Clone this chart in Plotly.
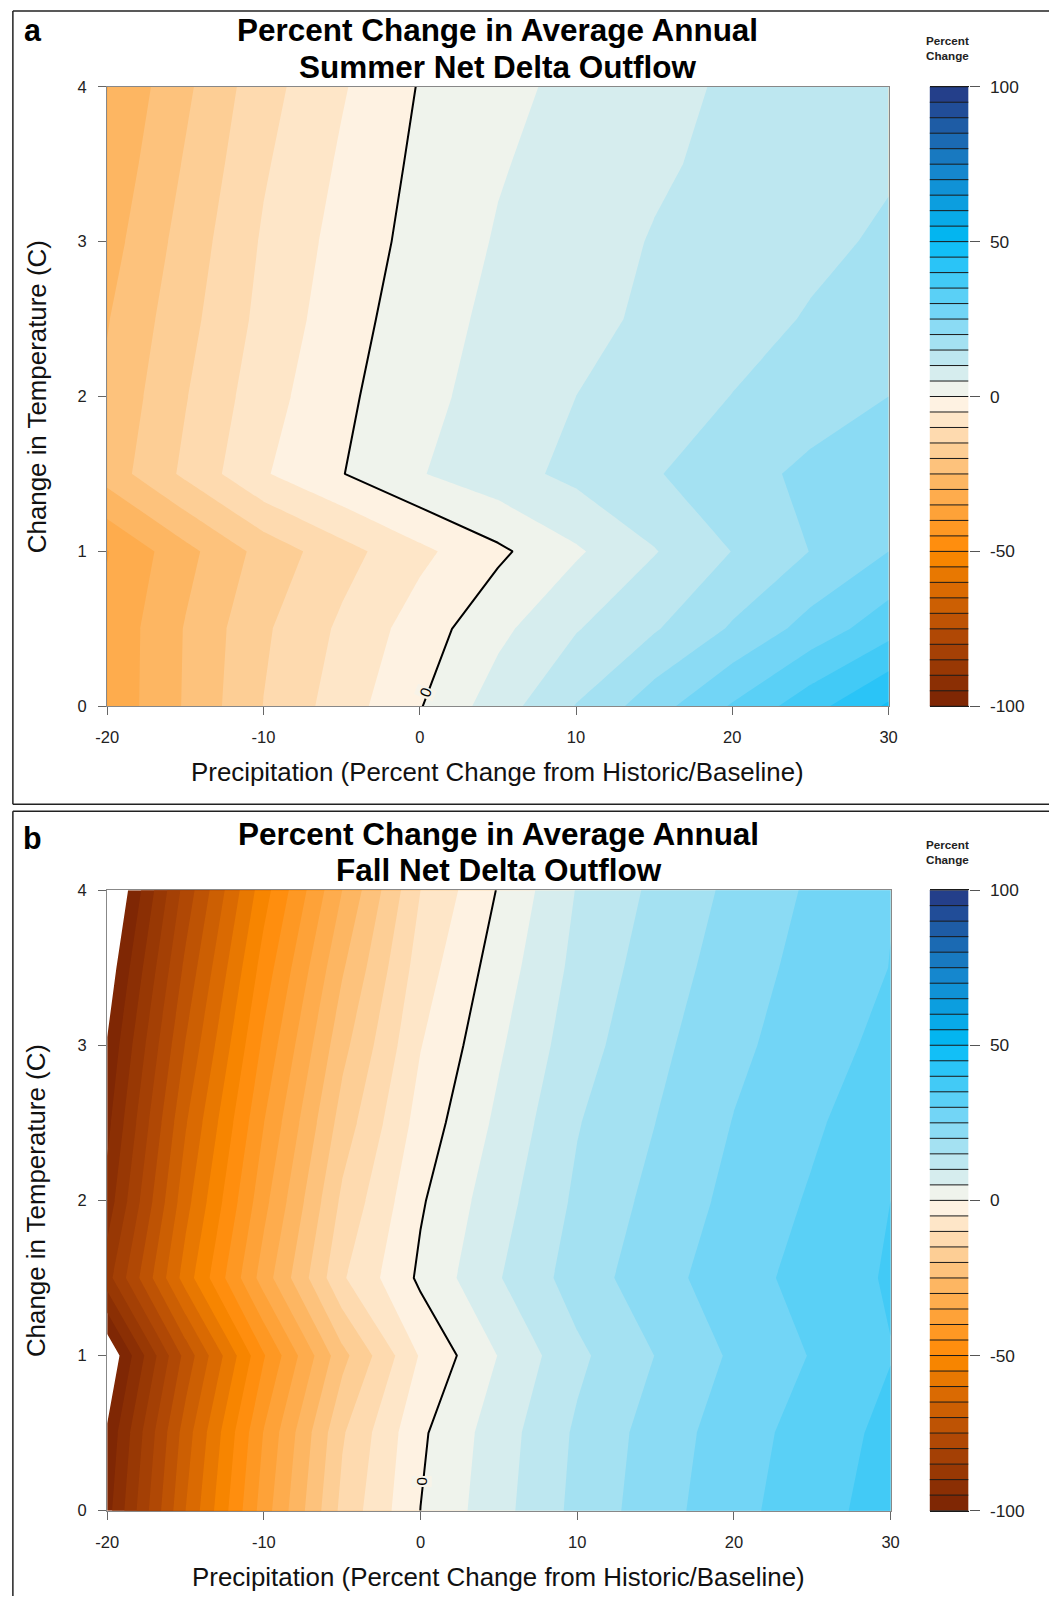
import plotly.graph_objects as go

W, H = 1058, 1606

# ---------------- data ----------------
PRECIP = [-20, -15, -10, -5, 0, 5, 10, 15, 20, 25, 30]
TEMP = [0, 0.5, 1, 1.5, 2, 2.5, 3, 3.5, 4]

# rows = TEMP (0 -> 4), columns = PRECIP (-20 -> 30)
SUMMER = [
    [-33.8, -24.5, -14.9, -7.5, -0.3, 7.6, 15.2, 22.9, 30.5, 38.1, 45.8],
    [-33.9, -24.7, -15.8, -9.1, -2.6, 3.7, 9.65, 14.5, 20.6, 26.9, 33.0],
    [-35.2, -26.6, -18.2, -11.9, -6.2, -1.0, 4.3, 9.7, 15.1, 20.1, 25.0],
    [-22.8, -14.0, -5.5, -0.2, 4.7, 8.0, 11.3, 14.6, 17.9, 21.2, 24.5],
    [-24.1, -15.3, -7.1, -1.1, 3.6, 7.0, 10.0, 12.5, 15.1, 17.5, 20.0],
    [-25.3, -16.7, -8.5, -2.2, 2.8, 6.2, 8.6, 10.9, 13.1, 15.4, 18.1],
    [-27.1, -18.0, -9.4, -3.2, 1.8, 5.4, 7.9, 10.3, 12.0, 13.9, 15.7],
    [-28.7, -19.5, -10.6, -4.3, 1.1, 4.6, 7.0, 9.3, 11.2, 12.9, 14.5],
    [-30.1, -21.0, -11.9, -5.5, 0.3, 3.6, 6.3, 8.5, 10.7, 12.3, 13.8],
]

FALL = [
    [-97.0, -65.0, -37.5, -13.6, 0.05, 8.3, 16.4, 22.8, 28.4, 33.0, 37.3],
    [-99.3, -67.6, -39.7, -15.6, -0.85, 7.6, 15.8, 22.1, 27.6, 32.2, 36.4],
    [-105.0, -73.3, -45.4, -21.6, -4.5, 5.2, 13.9, 20.1, 25.8, 30.3, 34.8],
    [-87.0, -57.7, -32.6, -10.6, 1.0, 9.7, 17.3, 23.0, 27.8, 31.9, 35.6],
    [-93.0, -61.9, -36.6, -14.0, -0.6, 8.0, 15.9, 21.5, 26.4, 30.6, 35.0],
    [-96.5, -65.5, -40.1, -17.8, -2.9, 6.1, 14.7, 20.0, 25.2, 29.2, 33.5],
    [-99.6, -69.7, -43.9, -21.6, -5.2, 4.3, 12.9, 18.7, 23.8, 27.8, 31.5],
    [-103.5, -73.8, -47.8, -25.6, -7.5, 2.45, 11.45, 17.4, 22.4, 26.9, 30.1],
    [-108.0, -78.0, -52.0, -30.0, -10.0, 0.4, 10.3, 16.05, 21.2, 25.8, 29.8],
]

LEVEL_MIN, LEVEL_MAX, LEVEL_STEP = -100, 100, 5
X_TICKS = [-20, -10, 0, 10, 20, 30]
Y_TICKS = [0, 1, 2, 3, 4]
CB_TICKS = [-100, -50, 0, 50, 100]

TITLE_1 = "Percent Change in Average Annual"
SUBTITLES = ["Summer Net Delta Outflow", "Fall Net Delta Outflow"]
PANEL_LABELS = ["a", "b"]
X_TITLE = "Precipitation (Percent Change from Historic/Baseline)"
Y_TITLE = "Change in Temperature (C)"
CB_TITLE = "Percent<br>Change"
ZERO_LABEL = "0"
# where the "0" label of the zero contour sits (precip, temp) and its angle
ZERO_LABEL_POS = [(0.35, 0.09, -68), (0.05, 0.19, -90)]

# ---------------- colours ----------------
ANCHORS = [(-97.5, "#7F2704"), (-77.5, "#B04805"), (-62.5, "#DA6A02"),
           (-52.5, "#F78500"), (-47.5, "#FF8E0E"), (-27.5, "#FDB662"),
           (-2.5, "#FEF2E2"), (2.5, "#EFF3EC"), (27.5, "#72D5F6"),
           (47.5, "#12BFF7"), (52.5, "#03B5F0"), (72.5, "#1587CE"),
           (97.5, "#243F8A")]


def _rgb(h):
    h = h.lstrip("#")
    return [int(h[i:i + 2], 16) for i in (0, 2, 4)]


def color_at(v):
    if v <= ANCHORS[0][0]:
        return ANCHORS[0][1]
    for (v0, c0), (v1, c1) in zip(ANCHORS[:-1], ANCHORS[1:]):
        if v0 <= v <= v1:
            f = (v - v0) / (v1 - v0)
            a, b = _rgb(c0), _rgb(c1)
            r = [round(a[k] + f * (b[k] - a[k])) for k in range(3)]
            return "#%02X%02X%02X" % tuple(r)
    return ANCHORS[-1][1]


n_bands = int((LEVEL_MAX - LEVEL_MIN) / LEVEL_STEP)
mids = [LEVEL_MIN + LEVEL_STEP * (i + 0.5) for i in range(n_bands)]
band_colors = [color_at(m) for m in mids]


def stepwise(colors):
    n = len(colors)
    cs = []
    for i, c in enumerate(colors):
        cs.append([i / n, c])
        cs.append([(i + 1) / n, c])
    return cs


# main fill: one extra white band below LEVEL_MIN (values < -100 left blank)
main_cs = stepwise(["#FFFFFF"] + band_colors)
bar_cs = stepwise(band_colors)

FONT = "Liberation Sans, Arial, sans-serif"

# ---------------- layout geometry (target pixels in the photographed page) ----------------
# the photographed page is inset slightly; map target pixels back to page pixels
SX, AX = 0.9803, 11.3
SY, AY = 0.9883, 8.2
FS = 1 / 0.985  # font compensation for that inset


def page_x(r):
    return (r - AX) / SX


def page_y(r):
    return (r - AY) / SY


def fx(r):
    return min(max(page_x(r) / W, 0.0), 1.0)


def fy(r):
    return min(max(1 - page_y(r) / H, 0.0), 1.0)


PANELS = [
    dict(z=SUMMER, px=(106.5, 888), py=(85, 705), title_y=(29, 65.5), label_y=28,
         xtitle_y=771, cbt_y=46.5, box_top=7.7, box_bottom=803),
    dict(z=FALL, px=(106.5, 890), py=(889, 1510), title_y=(833, 869.5), label_y=837,
         xtitle_y=1576, cbt_y=851, box_top=810, box_bottom=None),
]
CB_X = (929, 968)


def tick_text(vals):
    return [str(v) for v in vals]


fig = go.Figure()
layout = dict(width=W, height=H, autosize=False, margin=dict(l=0, r=0, t=0, b=0),
              paper_bgcolor="white", plot_bgcolor="white", showlegend=False,
              font=dict(family=FONT, color="#222"))
annotations = []
shapes = []
BOX_LINE = dict(color="#222", width=1.5)
EDGE_L = 0.9 / W          # paper x of the leftmost drawable line
EDGE_R = 1.0

for i, pan in enumerate(PANELS):
    xa = "x" if i == 0 else "x%d" % (2 * i + 1)
    ya = "y" if i == 0 else "y%d" % (2 * i + 1)
    xb = "x%d" % (2 * i + 2)
    yb = "y%d" % (2 * i + 2)
    xk = "xaxis" if i == 0 else "xaxis%d" % (2 * i + 1)
    yk = "yaxis" if i == 0 else "yaxis%d" % (2 * i + 1)
    xbk = "xaxis%d" % (2 * i + 2)
    ybk = "yaxis%d" % (2 * i + 2)

    fig.add_trace(go.Contour(
        x=PRECIP, y=TEMP, z=pan["z"], xaxis=xa, yaxis=ya,
        colorscale=main_cs, zmin=LEVEL_MIN - LEVEL_STEP, zmax=LEVEL_MAX,
        autocontour=False,
        contours=dict(start=LEVEL_MIN - LEVEL_STEP, end=LEVEL_MAX, size=LEVEL_STEP,
                      coloring="fill", showlines=False),
        line=dict(width=0, smoothing=0), showscale=False, hoverinfo="skip"))
    fig.add_trace(go.Contour(
        x=PRECIP, y=TEMP, z=pan["z"], xaxis=xa, yaxis=ya,
        autocontour=False,
        contours=dict(start=0, end=0, size=1, coloring="none", showlabels=False),
        line=dict(width=2, color="black", smoothing=0), showscale=False,
        hoverinfo="skip"))

    lx, ly, la = ZERO_LABEL_POS[i]
    annotations.append(dict(text=ZERO_LABEL, x=lx, y=ly, xref=xa, yref=ya, showarrow=False,
                            textangle=la, bgcolor="#F7F3E8", borderpad=1,
                            xanchor="center", yanchor="middle",
                            font=dict(size=15 * FS, color="black", family=FONT)))

    # colour bar as its own small axes
    fig.add_trace(go.Heatmap(
        x=[0], y=mids, z=[[m] for m in mids], xaxis=xb, yaxis=yb,
        colorscale=bar_cs, zmin=LEVEL_MIN, zmax=LEVEL_MAX, showscale=False,
        hoverinfo="skip"))
    levels = [LEVEL_MIN + LEVEL_STEP * k for k in range(n_bands + 1)]
    sx, sy = [], []
    for lv in levels:
        sx += [-0.5, 0.5, None]
        sy += [lv, lv, None]
    fig.add_trace(go.Scatter(x=sx, y=sy, xaxis=xb, yaxis=yb, mode="lines",
                             line=dict(color="#1a1a1a", width=1), hoverinfo="skip"))

    xdom = [fx(pan["px"][0]), fx(pan["px"][1])]
    ydom = [fy(pan["py"][1]), fy(pan["py"][0])]
    layout[xk] = dict(domain=xdom, anchor=ya, range=[PRECIP[0], PRECIP[-1]],
                      tickvals=X_TICKS, ticktext=tick_text(X_TICKS),
                      ticks="outside", ticklen=8, tickcolor="#666",
                      showline=True, mirror=True, linecolor="#888", linewidth=1.2,
                      showgrid=False, zeroline=False, ticklabelstandoff=8,
                      tickfont=dict(size=16.5, color="#222", family=FONT))
    layout[yk] = dict(domain=ydom, anchor=xa, range=[TEMP[0], TEMP[-1]],
                      tickvals=Y_TICKS, ticktext=tick_text(Y_TICKS),
                      ticks="outside", ticklen=8, tickcolor="#666",
                      showline=True, mirror=True, linecolor="#888", linewidth=1.2,
                      showgrid=False, zeroline=False, ticklabelstandoff=8,
                      tickfont=dict(size=16.5, color="#222", family=FONT))
    layout[xbk] = dict(domain=[fx(CB_X[0]), fx(CB_X[1])], anchor=yb, range=[-0.5, 0.5],
                       showticklabels=False, ticks="", showgrid=False, zeroline=False,
                       showline=True, mirror=True, linecolor="#1a1a1a", linewidth=1)
    layout[ybk] = dict(domain=ydom, anchor=xb, side="right", range=[LEVEL_MIN, LEVEL_MAX],
                       tickvals=CB_TICKS, ticktext=tick_text(CB_TICKS),
                       ticks="outside", ticklen=10, tickcolor="#555",
                       showgrid=False, zeroline=False, showline=False,
                       ticklabelstandoff=7,
                       tickfont=dict(size=17.3, color="#222", family=FONT))

    cx = (pan["px"][0] + pan["px"][1]) / 2
    annotations += [
        dict(text="<b>%s</b>" % TITLE_1, x=fx(cx), y=fy(pan["title_y"][0]),
             xref="paper", yref="paper", showarrow=False, xanchor="center", yanchor="middle",
             font=dict(size=31 * FS, color="black", family=FONT)),
        dict(text="<b>%s</b>" % SUBTITLES[i], x=fx(cx), y=fy(pan["title_y"][1]),
             xref="paper", yref="paper", showarrow=False, xanchor="center", yanchor="middle",
             font=dict(size=31 * FS, color="black", family=FONT)),
        dict(text="<b>%s</b>" % PANEL_LABELS[i], x=fx(32), y=fy(pan["label_y"]),
             xref="paper", yref="paper", showarrow=False, xanchor="center", yanchor="middle",
             font=dict(size=30 * FS, color="black", family=FONT)),
        dict(text=X_TITLE, x=fx(cx), y=fy(pan["xtitle_y"]),
             xref="paper", yref="paper", showarrow=False, xanchor="center", yanchor="middle",
             font=dict(size=25.5 * FS, color="#111", family=FONT)),
        dict(text=Y_TITLE, x=fx(36), y=fy((pan["py"][0] + pan["py"][1]) / 2), textangle=-90,
             xref="paper", yref="paper", showarrow=False, xanchor="center", yanchor="middle",
             font=dict(size=25.5 * FS, color="#111", family=FONT)),
        dict(text="<b>%s</b>" % CB_TITLE, x=fx(947), y=fy(pan["cbt_y"]),
             xref="paper", yref="paper", showarrow=False, xanchor="center", yanchor="middle",
             font=dict(size=11.5 * FS, color="#222", family=FONT)),
    ]
    # panel frame (kept inside the figure so the page does not grow)
    top = max(fy(pan["box_top"]), 0.0)
    top = min(top, 1 - 0.9 / H)
    bottom = fy(pan["box_bottom"]) if pan["box_bottom"] is not None else 0.0
    shapes.append(dict(type="line", xref="paper", yref="paper",
                       x0=EDGE_L, x1=EDGE_R, y0=top, y1=top, line=BOX_LINE, layer="above"))
    shapes.append(dict(type="line", xref="paper", yref="paper",
                       x0=EDGE_L, x1=EDGE_L, y0=bottom, y1=top, line=BOX_LINE, layer="above"))
    if pan["box_bottom"] is not None:
        shapes.append(dict(type="line", xref="paper", yref="paper",
                           x0=EDGE_L, x1=EDGE_R, y0=bottom, y1=bottom,
                           line=BOX_LINE, layer="above"))

layout["annotations"] = annotations
layout["shapes"] = shapes
fig.update_layout(**layout)

fig.write_html("out.html", include_plotlyjs=True, config={"displayModeBar": False},
               post_script="document.body.style.margin='0';document.body.style.overflow='hidden';")
